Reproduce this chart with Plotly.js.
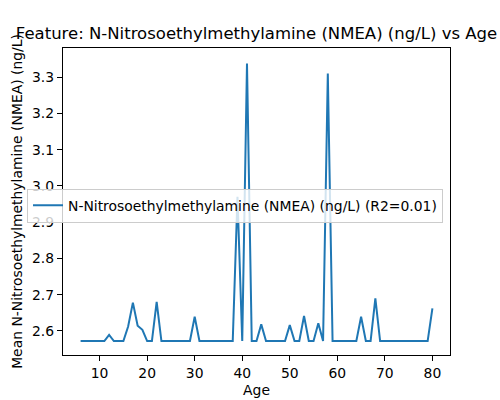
<!DOCTYPE html>
<html>
<head>
<meta charset="utf-8">
<script src="https://cdn.plot.ly/plotly-3.0.1.min.js"></script>
<style>html,body{margin:0;padding:0;background:#fff;}#chart{width:500px;height:400px;}</style>
</head>
<body>
<div id="chart"></div>
<script>
const ages = [6,7,8,9,10,11,12,13,14,15,16,17,18,19,20,21,22,23,24,25,26,27,28,29,30,31,32,33,34,35,36,37,38,39,40,41,42,43,44,45,46,47,48,49,50,51,52,53,54,55,56,57,58,59,60,61,62,63,64,65,66,67,68,69,70,71,72,73,74,75,76,77,78,79,80];
const meanNMEA = [2.572,2.572,2.572,2.572,2.572,2.572,2.589,2.572,2.572,2.572,2.612,2.678,2.614,2.603,2.572,2.572,2.680,2.572,2.572,2.572,2.572,2.572,2.572,2.572,2.639,2.572,2.572,2.572,2.572,2.572,2.572,2.572,2.572,2.970,2.572,3.338,2.572,2.572,2.618,2.572,2.572,2.572,2.572,2.572,2.616,2.572,2.572,2.641,2.572,2.572,2.621,2.572,3.310,2.572,2.572,2.572,2.572,2.572,2.572,2.639,2.572,2.572,2.690,2.572,2.572,2.572,2.572,2.572,2.572,2.572,2.572,2.572,2.572,2.572,2.662];
const seriesName = "N-Nitrosoethylmethylamine (NMEA) (ng/L) (R2=0.01)";
const titleText = "Feature: N-Nitrosoethylmethylamine (NMEA) (ng/L) vs Age";
const xTitle = "Age";
const yTitle = "Mean N-Nitrosoethylmethylamine (NMEA) (ng/L)";

const font = "DejaVu Sans, sans-serif";
const trace = {
  x: ages, y: meanNMEA, type: "scatter", mode: "lines", name: seriesName,
  line: {color: "#1f77b4", width: 2}, showlegend: true
};
const axisCommon = {
  showline: true, mirror: true, linecolor: "#000", linewidth: 1.1,
  ticks: "outside", ticklen: 5, tickwidth: 1.1, tickcolor: "#000",
  showgrid: false, zeroline: false,
  tickfont: {family: font, size: 13.9, color: "#000"}
};
const layout = {
  width: 500, height: 400,
  paper_bgcolor: "#fff", plot_bgcolor: "#fff",
  margin: {l: 63, r: 50, t: 48, b: 45, pad: 0},
  title: {text: titleText, font: {family: font, size: 16.5, color: "#000"},
          x: 0.5, xref: "paper", y: 1 - 33/400, yref: "container", yanchor: "middle"},
  xaxis: Object.assign({}, axisCommon, {
    range: [2.3, 83.7], tick0: 10, dtick: 10,
    title: {text: xTitle, font: {family: font, size: 13.9, color: "#000"}, standoff: 5}
  }),
  yaxis: Object.assign({}, axisCommon, {
    range: [2.5335, 3.3805], tick0: 2.6, dtick: 0.1, tickformat: ".1f",
    title: {text: yTitle, font: {family: font, size: 13.9, color: "#000"}, standoff: 6}
  }),
  legend: {x: -0.093, y: 0.542, xanchor: "left", yanchor: "top",
           bgcolor: "rgba(255,255,255,0.8)", bordercolor: "#cccccc", borderwidth: 1,
           font: {family: font, size: 13.9, color: "#000"}},
  showlegend: true
};
Plotly.newPlot("chart", [trace], layout, {displayModeBar: false, staticPlot: true});
</script>
</body>
</html>
